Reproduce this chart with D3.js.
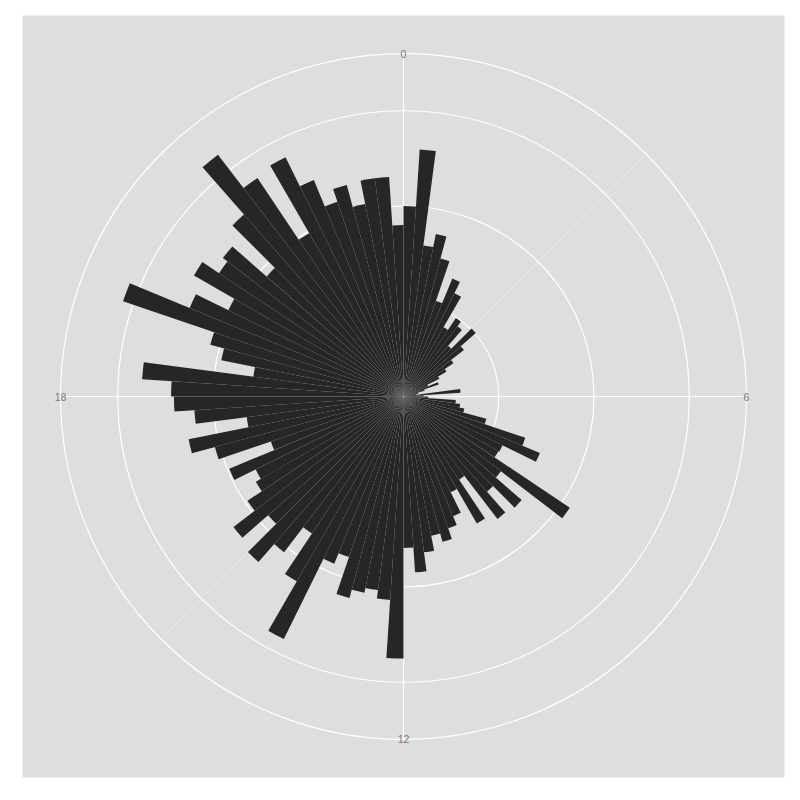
<!DOCTYPE html>
<html><head><meta charset="utf-8">
<script src="https://cdn.jsdelivr.net/npm/d3@7"></script>
<style>body{margin:0;background:#fff}svg{display:block}</style>
</head><body>
<svg id="c" width="800" height="800"></svg>
<script>
// hour bins (start of each 15-minute bin)
const binStart = [
 0,0.25,0.5,0.75,1,1.25,1.5,1.75,2,2.25,2.5,2.75,3,3.25,3.5,3.75,
 4,4.25,4.5,4.75,5,5.25,5.5,5.75,6,6.25,6.5,6.75,7,7.25,7.5,7.75,
 8,8.25,8.5,8.75,9,9.25,9.5,9.75,10,10.25,10.5,10.75,11,11.25,11.5,11.75,
 12,12.25,12.5,12.75,13,13.25,13.5,13.75,14,14.25,14.5,14.75,15,15.25,15.5,15.75,
 16,16.25,16.5,16.75,17,17.25,17.5,17.75,18,18.25,18.5,18.75,19,19.25,19.5,19.75,
 20,20.25,20.5,20.75,21,21.25,21.5,21.75,22,22.25,22.5,22.75,23,23.25,23.5,23.75
];
const binWidth = 0.25;
const counts = [
 20.0,26.0,16.0,17.4,15.0,10.6,13.4,12.1,8.4,9.9,9.3,7.1,10.1,8.0,6.3,5.2,
 4.2,2.8,3.9,2.3,1.6,1.3,6.0,2.1,2.6,5.5,6.0,6.5,9.0,13.5,15.5,11.6,
 11.5,21.0,12.9,16.5,13.3,16.2,10.5,15.4,11.2,13.6,14.6,15.8,14.9,16.5,18.5,15.9,
 27.5,21.4,20.5,21.0,21.9,17.8,19.0,28.4,22.4,17.3,20.6,23.1,18.9,22.5,19.7,17.9,
 17.3,19.8,14.7,20.5,23.0,16.6,22.0,24.1,24.4,27.5,15.9,19.5,21.0,31.1,24.3,20.5,
 25.4,23.3,23.9,19.1,25.4,32.0,27.6,19.8,28.0,24.6,21.6,23.0,20.6,23.1,23.1,18.0
];
const thetaBreaks = [0, 6, 12, 18];
const thetaLabels = ["0", "6", "12", "18"];
const thetaMinor = [3, 9, 15, 21];
const rBreaks = [10, 20, 30];

const W = 762, panelLeft = 22.5, panelTop = 15.5;
const cx = panelLeft + W / 2, cy = panelTop + W / 2;

const svg = d3.select("#c");
svg.append("rect").attr("width", 800).attr("height", 800).attr("fill", "#ffffff");
svg.append("rect").attr("x", panelLeft).attr("y", panelTop).attr("width", W).attr("height", W).attr("fill", "#dedede");

const theta = d3.scaleLinear().domain([0, 24]).range([0, 2 * Math.PI]);
const r = d3.scaleLinear().domain([0, d3.max(counts)]).range([0, 0.4 * W]);
const outerR = 0.45 * W;

const g = svg.append("g").attr("transform", `translate(${cx},${cy})`);

// minor theta lines
g.selectAll("line.minor").data(thetaMinor).join("line")
  .attr("x1", 0).attr("y1", 0)
  .attr("x2", d => outerR * Math.sin(theta(d)))
  .attr("y2", d => -outerR * Math.cos(theta(d)))
  .attr("stroke", "#ececec").attr("stroke-width", 0.6);

// major theta lines
g.selectAll("line.major").data(thetaBreaks).join("line")
  .attr("x1", 0).attr("y1", 0)
  .attr("x2", d => outerR * Math.sin(theta(d)))
  .attr("y2", d => -outerR * Math.cos(theta(d)))
  .attr("stroke", "#ffffff").attr("stroke-width", 1.2);

// r circles
g.selectAll("circle.r").data(rBreaks).join("circle")
  .attr("r", d => r(d)).attr("fill", "none")
  .attr("stroke", "#ffffff").attr("stroke-width", 1.2);
g.append("circle").attr("r", outerR).attr("fill", "none")
  .attr("stroke", "#ffffff").attr("stroke-width", 1.2);

// bars
const arc = d3.arc();
g.selectAll("path.bar").data(counts).join("path")
  .attr("d", (d, i) => arc({
    innerRadius: 0,
    outerRadius: r(d),
    startAngle: theta(binStart[i]),
    endAngle: theta(binStart[i] + binWidth)
  }))
  .attr("fill", "#262626");

// theta labels
g.selectAll("text.lab").data(thetaBreaks).join("text")
  .attr("x", d => outerR * Math.sin(theta(d)))
  .attr("y", d => -outerR * Math.cos(theta(d)))
  .attr("text-anchor", "middle")
  .attr("dominant-baseline", "central")
  .attr("font-family", "Liberation Sans, Arial, sans-serif")
  .attr("font-size", 10.5)
  .attr("fill", "#7a7a7a")
  .text((d, i) => thetaLabels[i]);
</script>
</body></html>
